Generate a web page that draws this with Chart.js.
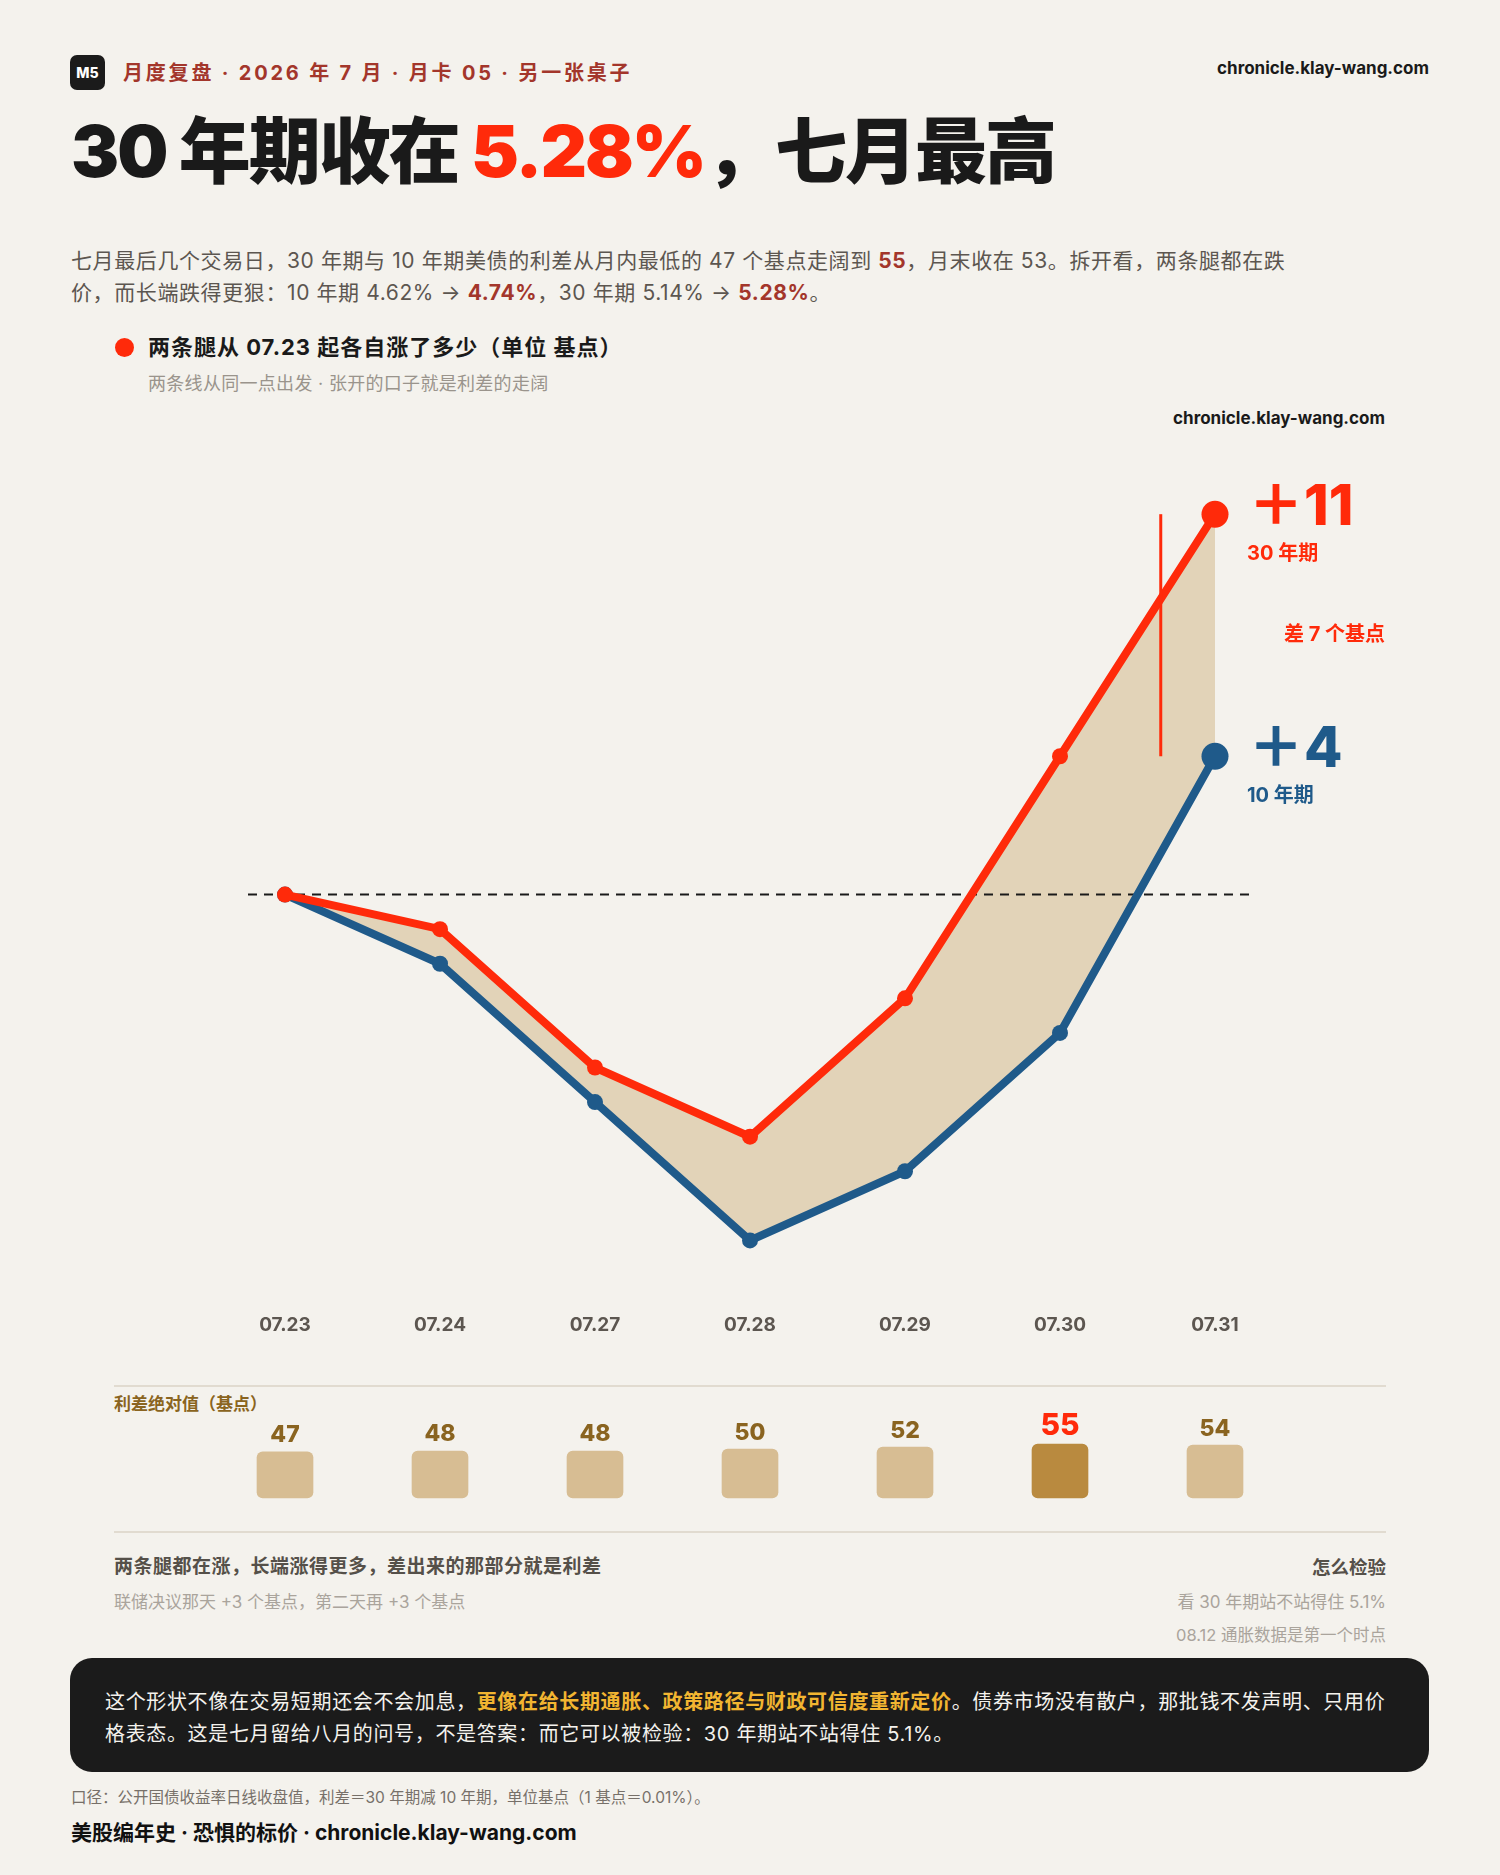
<!DOCTYPE html>
<html lang="zh-CN">
<head>
<meta charset="utf-8">
<title>30 年期收在 5.28%，七月最高</title>
<script src="https://cdn.jsdelivr.net/npm/chart.js@4.4.1/dist/chart.umd.min.js"></script>
<style>
html,body{margin:0;padding:0;background:#f4f2ed;}
body{width:1500px;height:1875px;position:relative;overflow:hidden;font-family:Inter,"Noto Sans CJK SC",sans-serif;color:#1a1a1a;}
.abs{position:absolute;white-space:nowrap;}
.badge{left:70px;top:55px;width:35px;height:35px;border-radius:7px;background:#1b1b1b;color:#fff;font-weight:800;font-size:14px;line-height:35px;text-align:center;}
.kicker{left:123px;top:58px;line-height:30px;font-size:20px;font-weight:700;color:#a3362b;letter-spacing:2.8px;}
.domain{right:71px;top:56px;line-height:24px;font-size:17px;font-weight:700;color:#1a1a1a;}
.title{left:71px;top:106px;line-height:90px;font-size:72px;font-weight:900;color:#1a1a1a;letter-spacing:-2px;}
.title .hl{color:#ff2a0a;}
.sub{left:71px;top:245px;line-height:32px;font-size:21px;color:#5c5650;letter-spacing:0.6px;}
.sub b{color:#a3362b;font-weight:700;}
.legdot{left:115px;top:338px;width:19px;height:19px;border-radius:50%;background:#ff2a0a;}
.legtxt{left:148px;top:332px;line-height:30px;font-size:22px;font-weight:700;color:#1a1a1a;letter-spacing:1px;}
.legsub{left:148px;top:372px;line-height:24px;font-size:18px;color:#9a948c;letter-spacing:0.3px;}
.domain2{right:115px;top:406px;line-height:24px;font-size:17px;font-weight:700;color:#1a1a1a;}
canvas{position:absolute;left:0;}
.sep{left:114px;width:1272px;height:2px;background:#e1dbd0;}
.barcap{left:114px;top:1392px;line-height:24px;font-size:17px;font-weight:700;color:#8a6420;}
.n1{left:114px;top:1553px;line-height:28px;font-size:19px;font-weight:700;color:#555049;letter-spacing:0.5px;}
.n2{left:114px;top:1590px;line-height:24px;font-size:17px;color:#aaa49c;}
.r1{right:114px;top:1553px;line-height:28px;font-size:18.5px;font-weight:700;color:#555049;text-align:right;}
.r2{right:114px;top:1590px;line-height:24px;font-size:17px;color:#aaa49c;text-align:right;}
.r3{right:114px;top:1623px;line-height:24px;font-size:16.5px;color:#aaa49c;text-align:right;}
.box{left:70px;top:1658px;width:1359px;height:114px;border-radius:22px;background:#1b1b1b;}
.boxtxt{left:105px;top:1686px;line-height:32px;font-size:20px;color:#f4f2ed;letter-spacing:0.65px;}
.boxtxt b{color:#f2b531;font-weight:700;}
.foot1{left:71px;top:1787px;line-height:22px;font-size:15.5px;color:#777069;}
.foot2{left:71px;top:1819px;line-height:28px;font-size:21px;font-weight:700;color:#111;}
</style>
</head>
<body>
<div class="abs badge">M5</div>
<div class="abs kicker">月度复盘 · 2026 年 7 月 · 月卡 05 · 另一张桌子</div>
<div class="abs domain">chronicle.klay-wang.com</div>
<div class="abs title">30 年期收在 <span class="hl">5.28%</span>，七月最高</div>
<div class="abs sub">七月最后几个交易日，30 年期与 10 年期美债的利差从月内最低的 47 个基点走阔到 <b>55</b>，月末收在 53。拆开看，两条腿都在跌<br>价，而长端跌得更狠：10 年期 4.62% → <b>4.74%</b>，30 年期 5.14% → <b>5.28%</b>。</div>
<div class="abs legdot"></div>
<div class="abs legtxt">两条腿从 07.23 起各自涨了多少（单位 基点）</div>
<div class="abs legsub">两条线从同一点出发 · 张开的口子就是利差的走阔</div>
<div class="abs domain2">chronicle.klay-wang.com</div>

<canvas id="lineChart" width="1500" height="950" style="top:400px;width:1500px;height:950px;"></canvas>

<div class="abs sep" style="top:1385px;"></div>
<div class="abs barcap">利差绝对值（基点）</div>
<canvas id="barChart" width="1500" height="130" style="top:1390px;width:1500px;height:130px;"></canvas>
<div class="abs sep" style="top:1531px;"></div>

<div class="abs n1">两条腿都在涨，长端涨得更多，差出来的那部分就是利差</div>
<div class="abs n2">联储决议那天 +3 个基点，第二天再 +3 个基点</div>
<div class="abs r1">怎么检验</div>
<div class="abs r2">看 30 年期站不站得住 5.1%</div>
<div class="abs r3">08.12 通胀数据是第一个时点</div>

<div class="abs box"></div>
<div class="abs boxtxt">这个形状不像在交易短期还会不会加息，<b>更像在给长期通胀、政策路径与财政可信度重新定价</b>。债券市场没有散户，那批钱不发声明、只用价<br>格表态。这是七月留给八月的问号，不是答案：而它可以被检验：30 年期站不站得住 5.1%。</div>

<div class="abs foot1">口径：公开国债收益率日线收盘值，利差＝30 年期减 10 年期，单位基点（1 基点＝0.01%）。</div>
<div class="abs foot2">美股编年史 · 恐惧的标价 · chronicle.klay-wang.com</div>

<script>
// ---- data ----
const categories = ['07.23', '07.24', '07.27', '07.28', '07.29', '07.30', '07.31'];
const change30y = [0, -1, -5, -7, -3, 4, 11];   // 30 年期 自 07.23 起变动（基点）
const change10y = [0, -2, -6, -10, -8, -4, 4];  // 10 年期 自 07.23 起变动（基点）
const spreadBp = [47, 48, 48, 50, 52, 55, 54];  // 利差绝对值（基点）
const seriesNames = ['30 年期', '10 年期'];
const spreadGapLabel = '差 7 个基点';

const FONT = 'Inter, "Noto Sans CJK SC", sans-serif';
const RED = '#ff2a0a';
const BLUE = '#1f5a8a';
const lastIdx = categories.length - 1;
const peakIdx = spreadBp.indexOf(Math.max(...spreadBp));

const sign = v => (v > 0 ? '＋' : (v < 0 ? '−' : '')) + Math.abs(v);

const annot = {
  id: 'annot',
  beforeDatasetsDraw(chart) {
    const {ctx, scales: {x, y}} = chart;
    const x0 = x.getPixelForValue(0), xN = x.getPixelForValue(lastIdx);
    const y0 = y.getPixelForValue(0);
    ctx.save();
    ctx.setLineDash([9, 7]);
    ctx.lineWidth = 2;
    ctx.strokeStyle = '#1a1a1a';
    ctx.beginPath();
    ctx.moveTo(x0 - 37, y0);
    ctx.lineTo(xN + 37, y0);
    ctx.stroke();
    ctx.restore();
  },
  afterDatasetsDraw(chart) {
    const {ctx, scales: {x, y}} = chart;
    const xa = x.getPixelForValue(lastIdx - 1), xb = x.getPixelForValue(lastIdx);
    const yTop = y.getPixelForValue(change30y[lastIdx]);
    const yBot = y.getPixelForValue(change10y[lastIdx]);
    // gap marker
    const xm = xa + (xb - xa) * 0.65;
    ctx.save();
    ctx.strokeStyle = RED;
    ctx.lineWidth = 3;
    ctx.beginPath();
    ctx.moveTo(xm, yTop);
    ctx.lineTo(xm, yBot);
    ctx.stroke();
    // end labels
    ctx.textBaseline = 'middle';
    ctx.textAlign = 'left';
    ctx.fillStyle = RED;
    ctx.font = '800 56px ' + FONT;
    ctx.fillText(sign(change30y[lastIdx]), xb + 33, yTop - 6);
    ctx.font = '700 20px ' + FONT;
    ctx.fillText(seriesNames[0], xb + 32, yTop + 40);
    ctx.fillStyle = BLUE;
    ctx.font = '800 56px ' + FONT;
    ctx.fillText(sign(change10y[lastIdx]), xb + 33, yBot - 6);
    ctx.font = '700 20px ' + FONT;
    ctx.fillText(seriesNames[1], xb + 32, yBot + 40);
    ctx.fillStyle = RED;
    ctx.textAlign = 'right';
    ctx.font = '700 20px ' + FONT;
    ctx.fillText(spreadGapLabel, 1385, (yTop + yBot) / 2);
    ctx.restore();
  }
};

const ptRadius = ctx => (ctx.dataIndex === lastIdx ? 13.5 : 8);

new Chart(document.getElementById('lineChart'), {
  type: 'line',
  data: {
    labels: categories,
    datasets: [
      {
        label: seriesNames[0],
        data: change30y,
        borderColor: RED,
        backgroundColor: RED,
        pointBackgroundColor: RED,
        borderWidth: 8,
        pointRadius: ptRadius,
        pointBorderWidth: 0,
        tension: 0,
        fill: false,
        clip: false
      },
      {
        label: seriesNames[1],
        data: change10y,
        borderColor: BLUE,
        backgroundColor: '#e2d3b8',
        pointBackgroundColor: BLUE,
        borderWidth: 8,
        pointRadius: ptRadius,
        pointBorderWidth: 0,
        tension: 0,
        fill: {target: 0},
        clip: false
      }
    ]
  },
  options: {
    responsive: false,
    animation: false,
    events: [],
    layout: {padding: {left: 285, right: 285, top: 79.6, bottom: 9.6}},
    scales: {
      x: {
        offset: false,
        grid: {display: false, drawTicks: false},
        border: {display: false},
        ticks: {padding: 4, color: '#5c5650', font: {family: FONT, size: 19, weight: '700'}}
      },
      y: {display: false, min: -12, max: 12}
    },
    plugins: {legend: {display: false}, tooltip: {enabled: false}, filler: {drawTime: 'beforeDatasetsDraw'}}
  },
  plugins: [annot]
});

const barLabels = {
  id: 'barLabels',
  afterDatasetsDraw(chart) {
    const {ctx} = chart;
    const meta = chart.getDatasetMeta(0);
    ctx.save();
    ctx.textAlign = 'center';
    ctx.textBaseline = 'alphabetic';
    meta.data.forEach((bar, i) => {
      const peak = i === peakIdx;
      ctx.fillStyle = peak ? RED : '#8a6420';
      ctx.font = (peak ? '800 30px ' : '800 23px ') + FONT;
      ctx.fillText(String(spreadBp[i]), bar.x, bar.y - 9.5);
    });
    ctx.restore();
  }
};

new Chart(document.getElementById('barChart'), {
  type: 'bar',
  data: {
    labels: categories,
    datasets: [{
      data: spreadBp,
      backgroundColor: ctx => (ctx.dataIndex === peakIdx ? '#b98a3f' : '#d7bd93'),
      borderRadius: 6,
      borderSkipped: false,
      barThickness: 56,
      clip: false
    }]
  },
  options: {
    responsive: false,
    animation: false,
    events: [],
    layout: {padding: {left: 285, right: 285, top: 10, bottom: 22}},
    scales: {
      x: {display: false, offset: false},
      y: {display: false, min: 0, max: 100}
    },
    plugins: {legend: {display: false}, tooltip: {enabled: false}}
  },
  plugins: [barLabels]
});
</script>
</body>
</html>
